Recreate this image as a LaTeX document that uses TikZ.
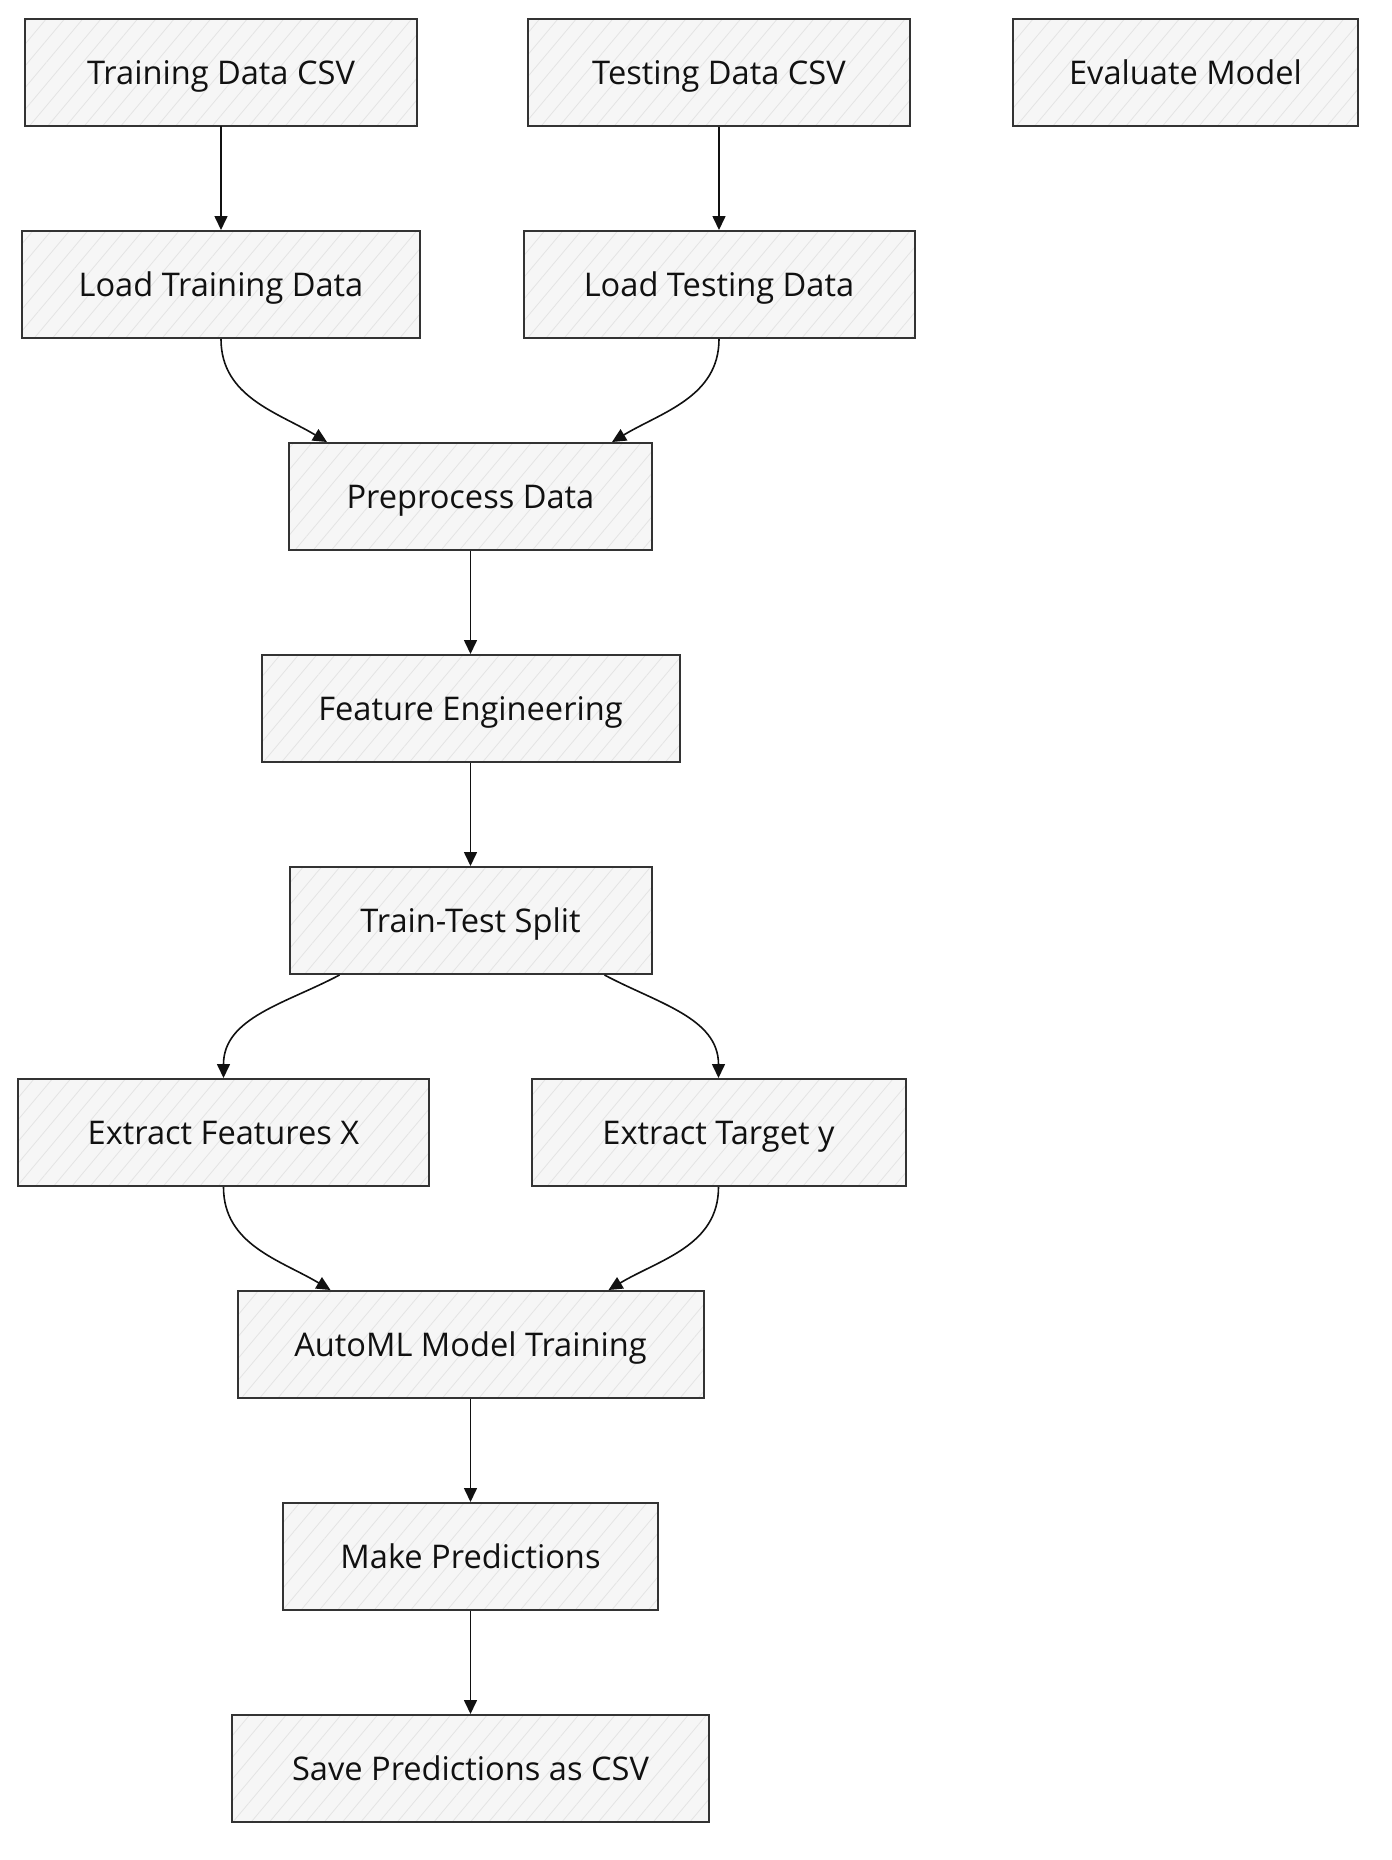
\documentclass[tikz,border=0pt]{standalone}
\usepackage{fontspec}
\setmainfont{Open Sans}
\usetikzlibrary{positioning,arrows.meta,patterns.meta}
\definecolor{boxfill}{HTML}{F6F6F6}
\definecolor{boxline}{HTML}{333333}
\definecolor{hatch}{HTML}{E4E4E4}
\definecolor{inkblack}{HTML}{111111}

\begin{document}
\begin{tikzpicture}[
        x=0.5pt, y=0.5pt,
        node distance=106pt,
        box/.style={rectangle, draw=boxline, line width=1pt, preaction={fill=boxfill}, pattern={Lines[angle=50,distance=7pt,line width=0.4pt]}, pattern color=hatch, minimum height=53.5pt, inner sep=0pt, text height=11.6pt, text depth=0pt, text=inkblack, font=\fontsize{16.3}{19}\selectfont},
        arrow/.style={-{Triangle[length=7pt,width=6.5pt]}, line width=0.8pt, color=inkblack}
    ]
    \useasboundingbox (0,0) rectangle (1392,-1860);

    \node[box, minimum width=196pt] (traincsv) at (221,-72.5) {Training Data CSV};
    \node[box, minimum width=191pt] (testcsv) at (719,-72.5) {Testing Data CSV};
    \node[box, minimum width=172.5pt] (evalmodel) at (1185.5,-72.5) {Evaluate Model};
    \node[box, minimum width=199pt, below of=traincsv] (loadtrain) {Load Training Data};
    \node[box, minimum width=195.5pt, below of=testcsv] (loadtest) {Load Testing Data};
    \node[box, minimum width=181.5pt, below of=loadtrain, xshift=124.75pt] (prep) {Preprocess Data};
    \node[box, minimum width=209pt, below of=prep] (feateng) {Feature Engineering};
    \node[box, minimum width=181pt, below of=feateng] (split) {Train-Test Split};
    \node[box, minimum width=205.5pt, below of=split, xshift=-123.5pt] (featx) {Extract Features X};
    \node[box, minimum width=187pt, below of=split, xshift=124pt] (targety) {Extract Target y};
    \node[box, minimum width=233pt, below of=split, node distance=212pt] (automl) {AutoML Model Training};
    \node[box, minimum width=187.5pt, below of=automl] (predict) {Make Predictions};
    \node[box, minimum width=238.5pt, below of=predict] (savecsv) {Save Predictions as CSV};

    \draw[arrow] (traincsv) -- (loadtrain);
    \draw[arrow] (testcsv) -- (loadtest);
    \draw[arrow] (loadtrain.south) to[out=-90, in=149] ([xshift=-71.75pt]prep.north);
    \draw[arrow] (loadtest.south) to[out=-90, in=31] ([xshift=70.75pt]prep.north);
    \draw[arrow] (prep) -- (feateng);
    \draw[arrow] (feateng) -- (split);
    \draw[arrow] ([xshift=-65.5pt]split.south) to[out=-152, in=90] (featx.north);
    \draw[arrow] ([xshift=67pt]split.south) to[out=-28, in=90] (targety.north);
    \draw[arrow] (featx.south) to[out=-90, in=149] ([xshift=-70pt]automl.north);
    \draw[arrow] (targety.south) to[out=-90, in=31] ([xshift=69pt]automl.north);
    \draw[arrow] (automl) -- (predict);
    \draw[arrow] (predict) -- (savecsv);

\end{tikzpicture}
\end{document}
